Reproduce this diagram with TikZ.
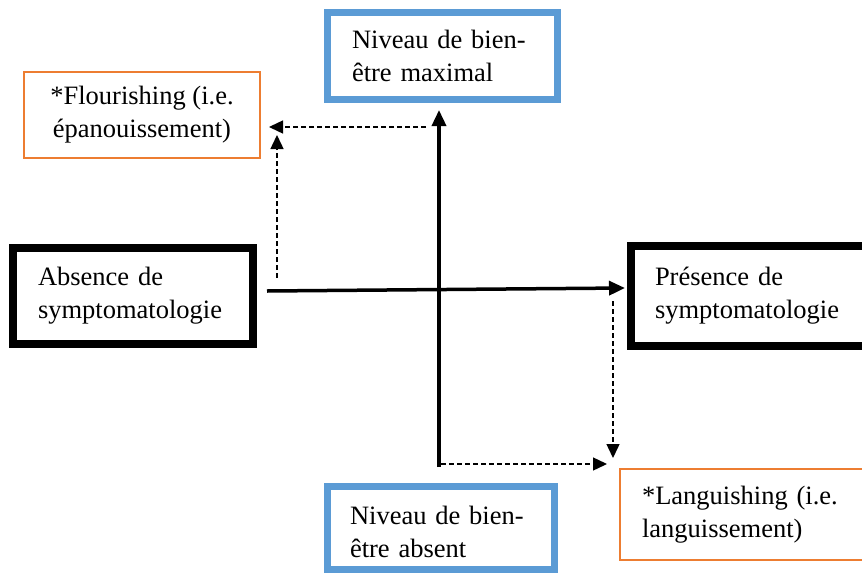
\documentclass[tikz,border=0pt]{standalone}
\usepackage{fontspec}
\setmainfont{Liberation Serif}
\usetikzlibrary{arrows.meta}
\definecolor{boxblue}{HTML}{5B9BD5}
\definecolor{boxorange}{HTML}{ED7D31}
\tikzset{
  txt/.style={font=\fontsize{26.5}{33}\selectfont, inner sep=0pt, rectangle},
  bluebox/.style={txt, draw=boxblue, line width=7pt, align=left},
  blackbox/.style={txt, draw=black, line width=8pt, align=left},
  orangebox/.style={txt, draw=boxorange, line width=2pt},
  axis/.style={line width=3.5pt, -{Triangle[length=16pt,width=14pt]}},
  dashlink/.style={line width=1.4pt, dash pattern=on 5pt off 3pt, -{Triangle[length=14pt,width=13pt]}},
}
\begin{document}
\begin{tikzpicture}[x=1pt,y=-1pt]
\useasboundingbox (0,0) rectangle (862,573);
\clip (0,0) rectangle (862,573);
\node[bluebox, minimum width=230pt, minimum height=87pt, text width=181pt] (top) at (442.5,56) {Niveau de bien-\\être maximal};
\node[bluebox, minimum width=227pt, minimum height=83pt, text width=182pt] (bottom) at (441,528) {Niveau de bien-\rule{0pt}{27pt}\\être absent};
\node[blackbox, minimum width=240pt, minimum height=96pt, text width=190pt] (absence) at (133,296) {Absence de\\symptomatologie};
\node[blackbox, minimum width=269pt, minimum height=100pt, text width=221pt] (presence) at (765.5,295.5) {Présence de\\symptomatologie};
\node[orangebox, minimum width=236pt, minimum height=86pt, align=center] (flour) at (142,115) {*Flourishing (i.e.\\épanouissement)};
\node[orangebox, minimum width=280pt, minimum height=91pt, text width=236pt, align=left] (lang) at (760,514.5) {*Languishing (i.e.\\languissement)};
% axes
\coordinate (vbot) at (439,467);
\coordinate (vtop) at (439,110);
\coordinate (hleft) at (267,291);
\coordinate (hright) at (625,288);
\draw[axis] (vbot) -- (vtop);
\draw[axis] (hleft) -- (hright);
% dashed links
\coordinate (d1s) at (426,127);
\coordinate (d1e) at (269,127);
\coordinate (d2s) at (277,278);
\coordinate (d2e) at (277,135);
\coordinate (d3s) at (613,301);
\coordinate (d3e) at (613,458);
\coordinate (d4s) at (441,464);
\coordinate (d4e) at (607,464);
\draw[dashlink] (d1s) -- (d1e);
\draw[dashlink] (d2s) -- (d2e);
\draw[dashlink] (d3s) -- (d3e);
\draw[dashlink] (d4s) -- (d4e);
\end{tikzpicture}
\end{document}
